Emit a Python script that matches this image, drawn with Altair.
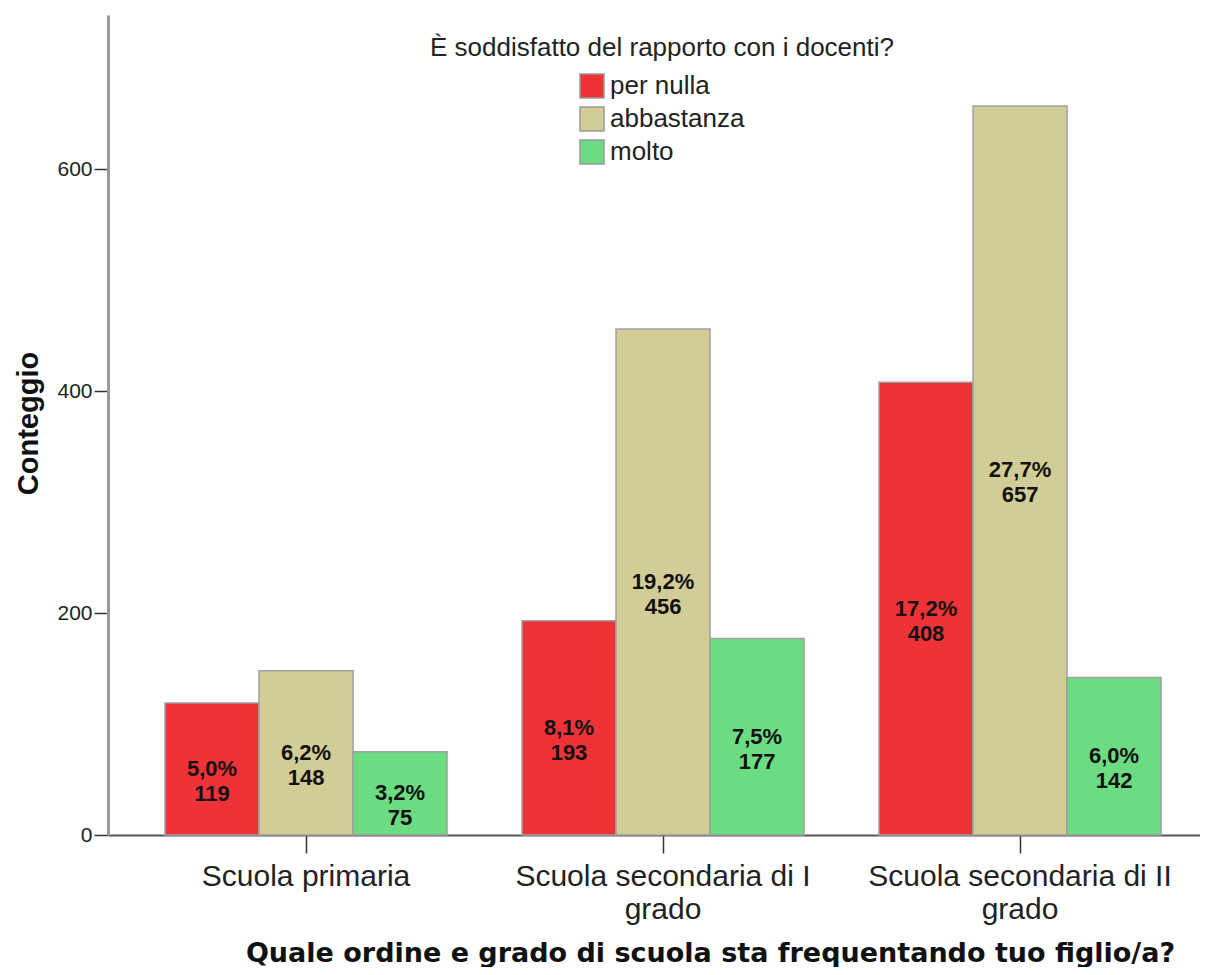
import altair as alt
import pandas as pd

scuole = ["Scuola primaria", "Scuola secondaria di I grado", "Scuola secondaria di II grado"]
giudizi = ["per nulla", "abbastanza", "molto"]
colori = ["#EE3237", "#D2CC96", "#6CDC82"]
tick_y = [0, 200, 400, 600]

conteggi_per_nulla = [119, 193, 408]
conteggi_abbastanza = [148, 456, 657]
conteggi_molto = [75, 177, 142]
perc_per_nulla = ["5,0%", "8,1%", "17,2%"]
perc_abbastanza = ["6,2%", "19,2%", "27,7%"]
perc_molto = ["3,2%", "7,5%", "6,0%"]

rows = []
for g, cnts, pcts in [
    ("per nulla", conteggi_per_nulla, perc_per_nulla),
    ("abbastanza", conteggi_abbastanza, perc_abbastanza),
    ("molto", conteggi_molto, perc_molto),
]:
    for s, c, p in zip(scuole, cnts, pcts):
        rows.append({"scuola": s, "giudizio": g, "conteggio": c, "perc": p})
df = pd.DataFrame(rows)

x_title = "Quale ordine e grado di scuola sta frequentando tuo figlio/a?"
x_scale = alt.Scale(paddingInner=0.21, paddingOuter=0.1344, align=0.594)
xoff = alt.XOffset("giudizio:N", sort=giudizi, scale=alt.Scale(paddingInner=0, paddingOuter=0))
y_scale = alt.Scale(domain=[0, 739], nice=False, zero=True)
y_axis = alt.Axis(values=tick_y, title="Conteggio")

bars = alt.Chart(df).mark_bar(stroke="#A0A0A0", strokeWidth=1.5).encode(
    x=alt.X("scuola:N", sort=scuole, scale=x_scale, title=x_title),
    xOffset=xoff,
    y=alt.Y("conteggio:Q", scale=y_scale, axis=y_axis),
    color=alt.Color(
        "giudizio:N",
        sort=giudizi,
        scale=alt.Scale(domain=giudizi, range=colori),
        legend=alt.Legend(
            title="È soddisfatto del rapporto con i docenti?",
            orient="none",
            legendX=322,
            legendY=20,
            titleFont="Liberation Sans",
            titleFontSize=26,
            titleFontWeight="normal",
            titleColor="#222222",
            titleAnchor="middle",
            titleAlign="center",
            titleLimit=0,
            titlePadding=12,
            labelFont="Liberation Sans",
            labelFontSize=26,
            labelColor="#222222",
            labelOffset=5,
            labelLimit=0,
            symbolType="square",
            symbolSize=576,
            symbolStrokeColor="#999999",
            symbolStrokeWidth=1.5,
            symbolOpacity=1,
            rowPadding=3,
        ),
    ),
)

text = alt.Chart(df).transform_calculate(
    mid="datum.conteggio / 2",
    label="datum.perc + '\\n' + datum.conteggio",
).mark_text(
    font="Liberation Sans",
    fontWeight="bold",
    fontSize=22,
    lineBreak="\n",
    lineHeight=25,
    baseline="middle",
    align="center",
    color="#111111",
).encode(
    x=alt.X("scuola:N", sort=scuole, scale=x_scale, title=x_title),
    xOffset=xoff,
    y=alt.Y("mid:Q", scale=y_scale, axis=y_axis),
    text="label:N",
)

chart = alt.layer(bars, text).properties(
    width=1092,
    height=820,
    autosize=alt.AutoSizeParams(type="none"),
    padding={"left": 100, "top": 7, "right": 0, "bottom": 132},
).configure_view(
    stroke=None
).configure_axisX(
    labelAngle=0,
    labelFont="Liberation Sans",
    labelFontSize=30,
    labelColor="#222222",
    labelPadding=8,
    labelLineHeight=33,
    labelBaseline="top",
    labelOverlap=False,
    labelLimit=0,
    labelExpr="datum.label == 'Scuola primaria' ? datum.label : [substring(datum.label, 0, length(datum.label) - 6), 'grado']",
    tickSize=18,
    tickColor="#333333",
    tickWidth=1.5,
    domainColor="#555555",
    domainWidth=2,
    titleFont="DejaVu Sans",
    titleFontWeight="bold",
    titleFontSize=27,
    titleColor="#111111",
    titleLimit=0,
    titleX=602,
    titleY=118,
    titleAlign="center",
    titleBaseline="middle",
).configure_axisY(
    grid=False,
    labelFont="Liberation Sans",
    labelFontSize=21,
    labelColor="#222222",
    labelPadding=2,
    tickSize=14,
    tickColor="#333333",
    tickWidth=1.5,
    domainColor="#9A9A9A",
    domainWidth=3,
    titleFont="Liberation Sans",
    titleFontWeight="bold",
    titleFontSize=29,
    titleColor="#111111",
    titleX=-80,
    titleY=408,
    titleAngle=270,
    titleAlign="center",
    titleBaseline="middle",
)

chart.save("out.html", embed_options={"renderer": "svg", "actions": False})
